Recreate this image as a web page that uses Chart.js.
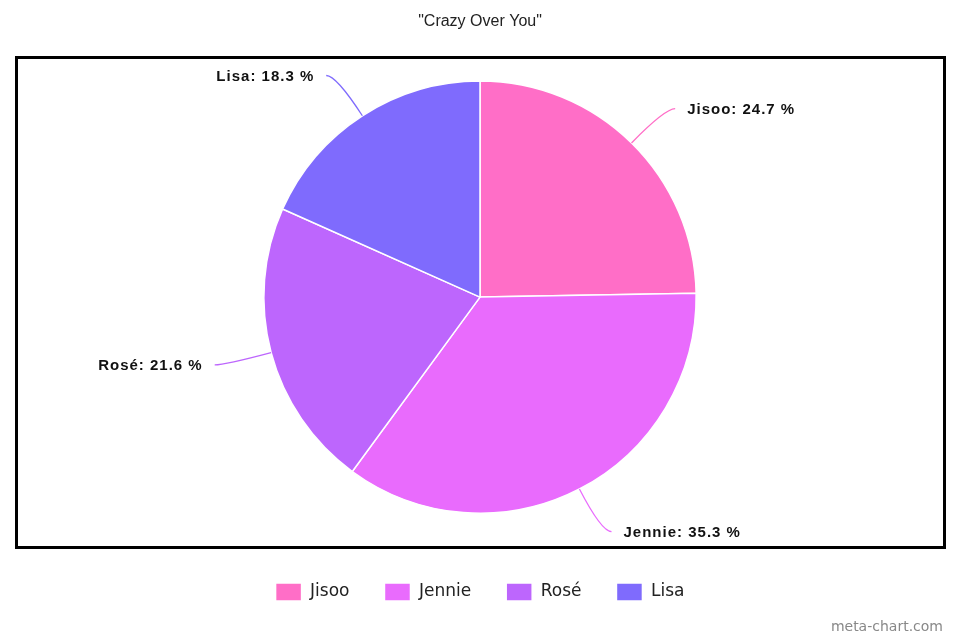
<!DOCTYPE html>
<html lang="en">
<head>
  <meta charset="UTF-8">
  <title>Crazy Over You</title>
  <script src="https://cdn.jsdelivr.net/npm/chart.js"></script>
  <style>
    body { margin: 0; background: #fff; }
    #wrap { width: 960px; height: 640px; position: relative; }
  </style>
</head>
<body>
  <div id="wrap"><canvas id="chart"></canvas></div>

  <script>
    const members = ["Jisoo", "Jennie", "Rosé", "Lisa"];
    const shares = [24.7, 35.3, 21.6, 18.3];
    const colors = ["#ff6ec7", "#e96bfd", "#bd66fd", "#7f6bfd"];

    // frame around the pie + watermark
    const framePlugin = {
      id: 'frame',
      beforeDraw(chart) {
        const ctx = chart.ctx;
        ctx.save();
        ctx.fillStyle = '#fff';
        ctx.fillRect(0, 0, chart.width, chart.height);
        ctx.strokeStyle = '#000';
        ctx.lineWidth = 3;
        ctx.strokeRect(16.5, 57.5, 928, 490);
        ctx.restore();
      },
      afterDraw(chart) {
        const ctx = chart.ctx;
        ctx.save();
        ctx.font = '14px "DejaVu Sans"';
        ctx.fillStyle = '#888';
        ctx.textAlign = 'right';
        ctx.textBaseline = 'middle';
        ctx.fillText('meta-chart.com', 943, 627);
        ctx.restore();
      }
    };

    // outside labels with curved leader lines
    const leaderPlugin = {
      id: 'leaders',
      afterDatasetsDraw(chart) {
        const ctx = chart.ctx;
        const meta = chart.getDatasetMeta(0);
        meta.data.forEach((arc, i) => {
          const p = arc.getProps(['x', 'y', 'startAngle', 'endAngle', 'outerRadius'], true);
          const mid = (p.startAngle + p.endAngle) / 2;
          const cos = Math.cos(mid), sin = Math.sin(mid);
          const side = cos >= 0 ? 1 : -1;
          const x0 = p.x + cos * p.outerRadius, y0 = p.y + sin * p.outerRadius;
          const x1 = p.x + cos * (p.outerRadius + 48), y1 = p.y + sin * (p.outerRadius + 48);
          const x2 = x1 + side * 10;
          ctx.save();
          ctx.strokeStyle = colors[i];
          ctx.lineWidth = 1.3;
          ctx.beginPath();
          ctx.moveTo(x0, y0);
          ctx.quadraticCurveTo(x1, y1, x2, y1);
          ctx.stroke();
          ctx.font = 'bold 15px "Liberation Sans", Arial, sans-serif';
          ctx.letterSpacing = '1px';
          ctx.fillStyle = '#111';
          ctx.textAlign = side > 0 ? 'left' : 'right';
          ctx.textBaseline = 'middle';
          ctx.fillText(members[i] + ': ' + shares[i] + ' %', x2 + side * 12, y1 + 1);
          ctx.restore();
        });
      }
    };

    new Chart(document.getElementById('chart'), {
      type: 'pie',
      data: {
        labels: members,
        datasets: [{
          data: shares,
          backgroundColor: colors,
          borderColor: '#fff',
          borderWidth: 1.5
        }]
      },
      options: {
        responsive: true,
        maintainAspectRatio: false,
        animation: false,
        layout: { padding: { top: 0, bottom: 29 } },
        plugins: {
          title: {
            display: true,
            text: '"Crazy Over You"',
            color: '#222',
            font: { family: '"Liberation Sans", Arial, sans-serif', size: 16, weight: 'normal' },
            padding: { top: 12, bottom: 49 }
          },
          legend: {
            position: 'bottom',
            title: { display: true, text: '', font: { size: 10 }, padding: { top: 22, bottom: 0 } },
            labels: {
              color: '#222',
              boxWidth: 26,
              boxHeight: 18,
              padding: 35,
              font: { family: '"DejaVu Sans"', size: 17 }
            }
          },
          tooltip: { enabled: false }
        }
      },
      plugins: [framePlugin, leaderPlugin]
    });
  </script>
</body>
</html>
